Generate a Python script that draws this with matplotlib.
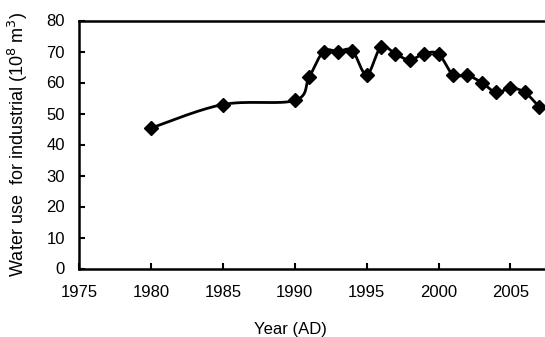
import numpy as np
import matplotlib.pyplot as plt

plt.rcParams['font.family'] = ['Liberation Sans', 'DejaVu Sans']

# Water use for industrial (10^8 m^3)
years = [1980, 1985, 1990, 1991, 1992, 1993, 1994, 1995, 1996, 1997, 1998,
         1999, 2000, 2001, 2002, 2003, 2004, 2005, 2006, 2007]
water = [45.3, 52.9, 54.2, 61.7, 70.0, 70.0, 70.3, 62.5, 71.5, 69.2, 67.3,
         69.3, 69.2, 62.5, 62.3, 60.0, 56.8, 58.2, 56.8, 52.1]
xticks = [1975, 1980, 1985, 1990, 1995, 2000, 2005]
yticks = [0, 10, 20, 30, 40, 50, 60, 70, 80]


def smooth(x, y, n=30):
    # spreadsheet-style smoothed line (catmull-rom through the points)
    x = np.asarray(x, float)
    y = np.asarray(y, float)
    px = np.concatenate([[x[0]], x, [x[-1]]])
    py = np.concatenate([[y[0]], y, [y[-1]]])
    xs, ys = [], []
    t = np.linspace(0, 1, n)
    for i in range(1, len(px) - 2):
        p0 = np.array([px[i], py[i]])
        p3 = np.array([px[i + 1], py[i + 1]])
        p1 = p0 + (np.array([px[i + 1], py[i + 1]]) - np.array([px[i - 1], py[i - 1]])) / 6
        p2 = p3 - (np.array([px[i + 2], py[i + 2]]) - np.array([px[i], py[i]])) / 6
        b = ((1 - t) ** 3)[:, None] * p0 + (3 * (1 - t) ** 2 * t)[:, None] * p1 \
            + (3 * (1 - t) * t ** 2)[:, None] * p2 + (t ** 3)[:, None] * p3
        xs.extend(b[:, 0])
        ys.extend(b[:, 1])
    return xs, ys


fig = plt.figure(figsize=(5.45, 3.37), dpi=100)
ax = fig.add_axes([79 / 545, (337 - 268.5) / 337, (545 - 79) / 545, (268.5 - 20.5) / 337])

sx, sy = smooth(years, water)
ax.plot(sx, sy, color='black', lw=2.0, zorder=2)
ax.plot(years, water, linestyle='none', marker='D', markersize=7.5,
        color='black', zorder=3)

ax.set_xlim(1975, 2007.4)
ax.set_ylim(0, 80)
ax.set_xticks(xticks)
ax.set_yticks(yticks)
ax.tick_params(direction='in', length=4, width=1.5, labelsize=12)
ax.tick_params(axis='x', pad=12)
ax.tick_params(axis='y', pad=10)
for side in ['left', 'bottom', 'top']:
    ax.spines[side].set_linewidth(1.8)
ax.spines['right'].set_visible(False)

ax.set_xlabel('Year (AD)', fontsize=12)
ax.set_ylabel('Water use  for industrial (10$^{8}$ m$^{3}$)', fontsize=13)
ax.xaxis.set_label_coords((290 - 79) / 466, -0.215)
ax.yaxis.set_label_coords(-0.105, 0.5)

fig.savefig('out.png', dpi=100)
